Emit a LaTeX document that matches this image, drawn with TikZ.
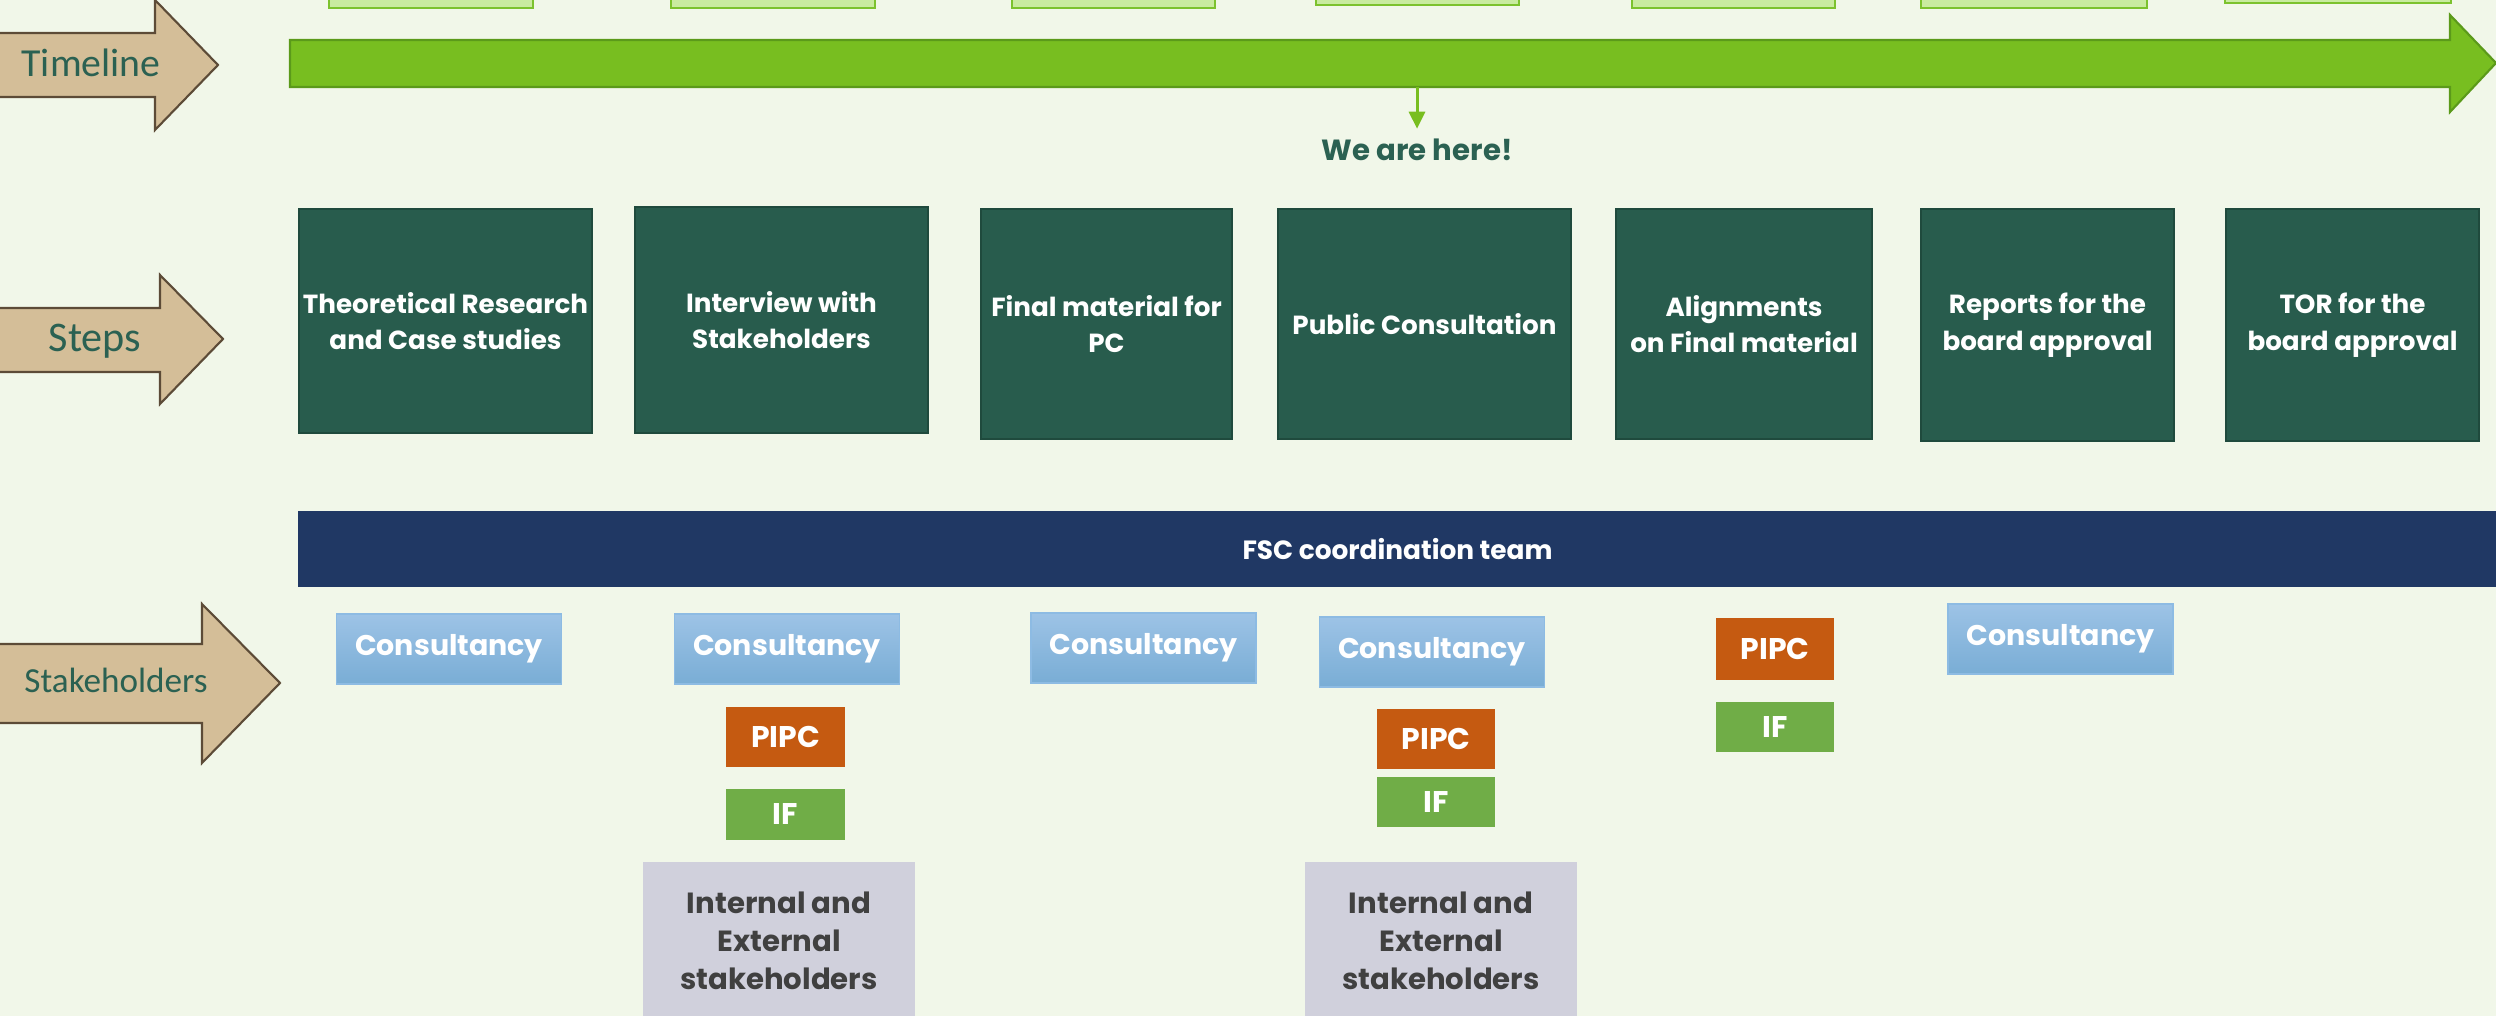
\documentclass[tikz,border=0pt]{standalone}
\usepackage{fontspec}
\setmainfont{Poppins}
\newfontfamily\lblfont{Carlito}
\usepackage{tikz}
\usetikzlibrary{arrows.meta, positioning}
\definecolor{bgcol}{HTML}{F1F7E9}
\definecolor{tanfill}{HTML}{D4BE98}
\definecolor{tanedge}{HTML}{5C4B37}
\definecolor{lblcol}{HTML}{2B6152}
\definecolor{stepfill}{HTML}{285C4D}
\definecolor{stepedge}{HTML}{1F4A3D}
\definecolor{navy}{HTML}{203864}
\definecolor{linegreen}{HTML}{78BE20}
\definecolor{lineedge}{HTML}{5B9A1A}
\definecolor{topfill}{HTML}{C9EBA0}
\definecolor{topedge}{HTML}{7CC22E}
\definecolor{consulttop}{HTML}{9DC3E6}
\definecolor{consultbot}{HTML}{79ADD5}
\definecolor{consultedge}{HTML}{8DBBE3}
\definecolor{pipcfill}{HTML}{C55A11}
\definecolor{iffill}{HTML}{70AD47}
\definecolor{stakefill}{HTML}{D0D0DC}
\definecolor{stakefont}{HTML}{404040}
\tikzset{
  lblarrow/.style = {fill=tanfill, draw=tanedge, line width=0.6pt},
  lbltext/.style = {text=lblcol, anchor=base, inner sep=0pt},
  stepbox/.style = {draw=stepedge, fill=stepfill, line width=0.6pt, text=white,
    align=center, inner sep=0pt, font=\bfseries\fontsize{7.45}{10.4}\selectfont},
  consult/.style = {draw=consultedge, top color=consulttop, bottom color=consultbot,
    text=white, inner sep=0pt, font=\bfseries\fontsize{8.1}{10}\selectfont,
    minimum width=2.25cm, minimum height=0.7cm},
  pipc/.style = {fill=pipcfill, text=white, inner sep=0pt,
    font=\bfseries\fontsize{8.5}{10}\selectfont,
    minimum width=1.18cm, minimum height=0.59cm},
  ifbox/.style = {fill=iffill, text=white, inner sep=0pt,
    font=\bfseries\fontsize{8.5}{10}\selectfont,
    minimum width=1.18cm, minimum height=0.5cm},
  stake/.style = {fill=stakefill, text=stakefont, align=center, inner sep=0pt,
    font=\bfseries\fontsize{8.3}{10.8}\selectfont,
    minimum width=2.72cm, minimum height=1.58cm},
  topbox/.style = {fill=topfill, draw=topedge, line width=0.8pt}
}

\begin{document}
\begin{tikzpicture}[x=0.01cm, y=-0.01cm]
\useasboundingbox (0,0) rectangle (2496,1016);
\clip (0,0) rectangle (2496,1016);
\fill[bgcol] (0,0) rectangle (2496,1016);

% boxes cut off at the top
\foreach \xa/\xb/\yb in {329/533/8, 671/875/8, 1012/1215/8, 1316/1519/5,
    1632/1835/8, 1921/2147/8, 2225/2451/3}
  \draw[topbox] (\xa,-30) rectangle (\xb,\yb);

% row labels
\draw[lblarrow] (-10,33) -- (155,33) -- (155,0) -- (218,65) -- (155,130)
  -- (155,97) -- (-10,97) -- cycle;
\node[lbltext, font=\lblfont\fontsize{11.3}{13}\selectfont] (timeline) at (91,77) {Timeline};
\draw[lblarrow] (-10,308) -- (160,308) -- (160,275) -- (223,339) -- (160,404)
  -- (160,372) -- (-10,372) -- cycle;
\node[lbltext, font=\lblfont\fontsize{12}{14}\selectfont] (steps) at (95,352) {Steps};
\draw[lblarrow] (-10,644) -- (202,644) -- (202,604) -- (280,683) -- (202,763)
  -- (202,723) -- (-10,723) -- cycle;
\node[lbltext, font=\lblfont\fontsize{10}{12}\selectfont] (stakeh) at (116,693) {Stakeholders};

% timeline
\draw[fill=linegreen, draw=lineedge, line width=0.6pt] (290,40) -- (2450,40)
  -- (2450,15) -- (2496,63) -- (2450,112) -- (2450,87) -- (290,87) -- cycle;
\coordinate (herept) at (1417,87);
\node[text=lblcol, anchor=base, inner sep=0.1cm,
  font=\bfseries\fontsize{8.3}{10}\selectfont] (here) at (1417,161) {We are here!};
\draw[linegreen, line width=0.85pt, -{Triangle[width=0.16cm, length=0.17cm]}]
  (herept) -- (here.north);

% steps
\node[stepbox, minimum width=2.93cm, minimum height=2.24cm] (s1) at (445.5,321)
  {Theoretical Research\\and Case studies};
\node[stepbox, minimum width=2.93cm, minimum height=2.26cm] (s2) at (781.5,320)
  {Interview with\\Stakeholders};
\node[stepbox, minimum width=2.51cm, minimum height=2.30cm] (s3) at (1106.5,324)
  {Final material for\\PC};
\node[stepbox, minimum width=2.93cm, minimum height=2.30cm] (s4) at (1424.5,324)
  {Public Consultation};
\node[stepbox, minimum width=2.56cm, minimum height=2.30cm] (s5) at (1744,324)
  {Alignments\\on Final material};
\node[stepbox, minimum width=2.53cm, minimum height=2.32cm] (s6) at (2047.5,325)
  {Reports for the\\board approval};
\node[stepbox, minimum width=2.53cm, minimum height=2.32cm] (s7) at (2352.5,325)
  {TOR for the\\board approval};

% coordination bar
\node[fill=navy, text=white, inner sep=0pt, minimum width=21.97cm, minimum height=0.76cm,
  font=\bfseries\fontsize{7.5}{9}\selectfont] (fsc) at (1397.5,549) {FSC coordination team};

% stakeholders
\node[consult] (c1) at (449,649) {Consultancy};
\node[consult] (c2) at (787,649) {Consultancy};
\node[consult] (c3) at (1143.5,648) {Consultancy};
\node[consult] (c4) at (1432,652) {Consultancy};
\node[consult] (c5) at (2060.5,639) {Consultancy};

\node[pipc] (p1) at (785.5,737) {PIPC};
\node[pipc] (p2) at (1436,739) {PIPC};
\node[pipc, minimum height=0.61cm] (p3) at (1775,649) {PIPC};

\node[ifbox] (f1) at (785.5,814.5) {IF};
\node[ifbox] (f2) at (1436,802) {IF};
\node[ifbox] (f3) at (1775,727) {IF};

\node[stake] (ie1) at (779,941) {Internal and\\External\\stakeholders};
\node[stake] (ie2) at (1441,941) {Internal and\\External\\stakeholders};
\end{tikzpicture}
\end{document}
